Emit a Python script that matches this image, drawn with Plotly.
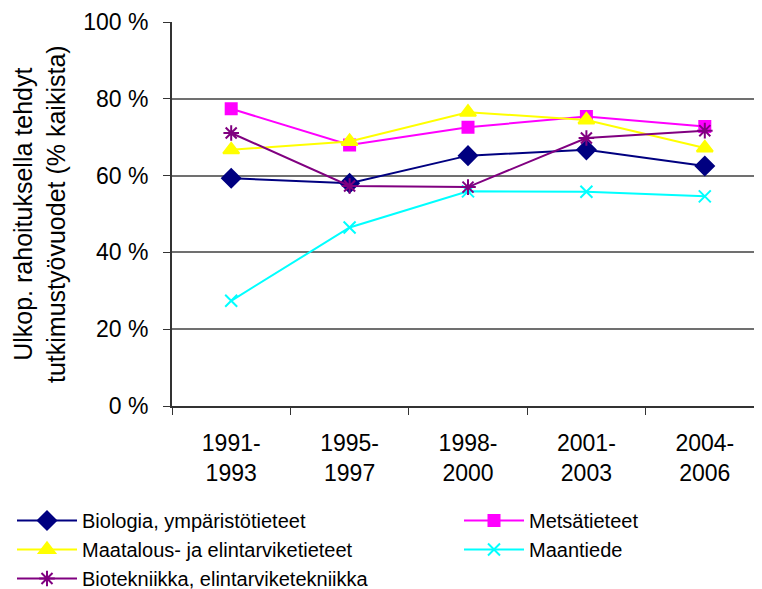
import plotly.graph_objects as go

categories = ["1991-<br>1993", "1995-<br>1997", "1998-<br>2000", "2001-<br>2003", "2004-<br>2006"]
biologia = [59.3, 58.0, 65.2, 66.7, 62.5]
metsa = [77.4, 68.0, 72.6, 75.4, 72.8]
maatalous = [66.7, 68.9, 76.5, 74.5, 67.2]
maantiede = [27.4, 46.5, 55.9, 55.8, 54.6]
biotek = [71.1, 57.3, 57.0, 69.8, 71.7]
y_ticks = [0, 20, 40, 60, 80, 100]
y_ticktext = ["0 %", "20 %", "40 %", "60 %", "80 %", "100 %"]

FONT = "Liberation Sans, Arial, sans-serif"

# (name, values, color, symbol, size, legend)
series = [
    ("Biologia, ympäristötieteet", biologia, "#000080", "diamond", 14, "legend"),
    ("Metsätieteet", metsa, "#FF00FF", "square", 11, "legend2"),
    ("Maatalous- ja elintarviketieteet", maatalous, "#FFFF00", "triangle-up", 14, "legend"),
    ("Maantiede", maantiede, "#00FFFF", "x-thin-open", 12, "legend2"),
    ("Biotekniikka, elintarviketekniikka", biotek, "#800080", "asterisk-open", 13, "legend"),
]

fig = go.Figure()
for name, vals, color, sym, size, leg in series:
    fig.add_trace(go.Scatter(
        x=categories, y=vals, name=name, mode="lines+markers",
        line=dict(color=color, width=2),
        marker=dict(symbol=sym, size=size, color=color,
                    line=dict(color=color, width=2)),
        legend=leg,
    ))

W, H = 770, 620
PL, PR, PT, PB = 164, 756, 14, 398
PW, PH = PR - PL, PB - PT

def px_x(px):
    return (px - PL) / PW

def px_y(py):
    return (PB - py) / PH

leg_common = dict(
    orientation="v", xanchor="left", yanchor="top",
    font=dict(size=20, family=FONT), tracegroupgap=0, itemwidth=60,
    bgcolor="rgba(0,0,0,0)", borderwidth=0,
)

fig.update_layout(
    width=W, height=H,
    margin=dict(l=PL, r=W - PR, t=PT, b=H - PB, autoexpand=False),
    paper_bgcolor="white", plot_bgcolor="white",
    font=dict(family=FONT, size=23, color="black"),
    showlegend=True,
    legend=dict(x=px_x(4), y=px_y(493), **leg_common),
    legend2=dict(x=px_x(451), y=px_y(493), **leg_common),
)
fig.update_xaxes(
    type="category", range=[-0.5, 4.5], automargin=False,
    showline=True, linecolor="#333333", linewidth=2,
    ticks="outside", tickson="boundaries", ticklen=7, tickcolor="#333333",
    showgrid=False, ticklabelstandoff=15, tickfont=dict(size=23),
)
fig.update_yaxes(
    range=[0, 100], tickvals=y_ticks, ticktext=y_ticktext, automargin=False,
    showline=True, linecolor="#333333", linewidth=2,
    ticks="outside", ticklen=7, tickcolor="#333333",
    showgrid=True, gridcolor="#707070", gridwidth=1.5,
    ticklabelstandoff=10, tickfont=dict(size=23), zeroline=False,
)
fig.add_annotation(
    text="Ulkop. rahoituksella tehdyt<br>tutkimustyövuodet (% kaikista)",
    xref="paper", yref="paper", x=px_x(31), y=px_y(206),
    xanchor="center", yanchor="middle", textangle=-90, showarrow=False,
    font=dict(size=25, family=FONT),
)
fig.write_html("out.html")
